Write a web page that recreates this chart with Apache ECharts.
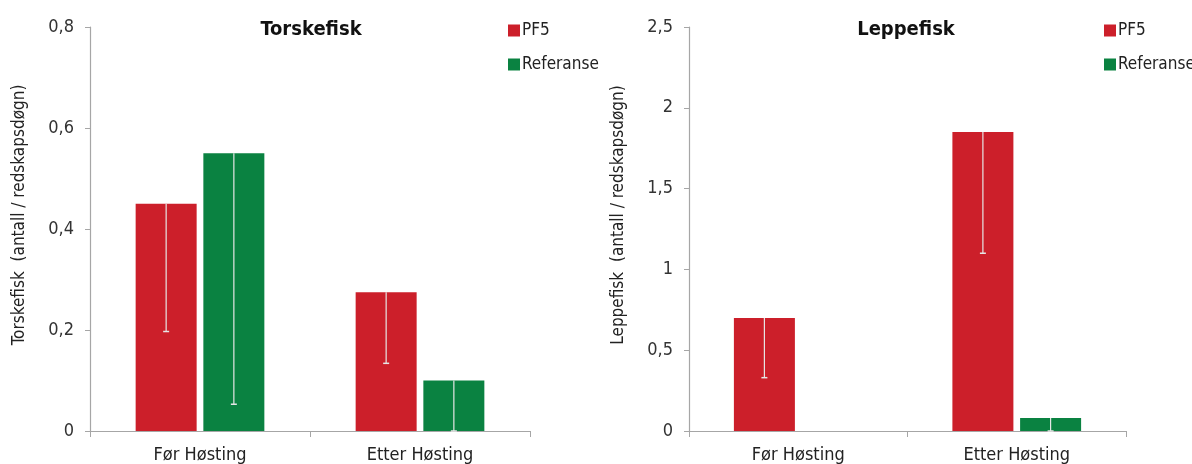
<!DOCTYPE html>
<html><head><meta charset="utf-8">
<script src="https://cdn.jsdelivr.net/npm/echarts@6/dist/echarts.min.js"></script>
<style>html,body{margin:0;padding:0;background:#fff}#c{width:1192px;height:464px}</style>
</head><body><div id="c"></div>
<script>
const categories = ['Før Høsting', 'Etter Høsting'];
const seriesNames = ['PF5', 'Referanse'];
// Torskefisk
const torskPF5 = [0.45, 0.275];
const torskPF5Lower = [0.197, 0.134];
const torskRef = [0.55, 0.1];
const torskRefLower = [0.053, 0];
const torskTicks = ['0', '0,2', '0,4', '0,6', '0,8'];
// Leppefisk
const leppePF5 = [0.7, 1.85];
const leppePF5Lower = [0.33, 1.1];
const leppeRef = [0, 0.08];
const leppeRefLower = [0, 0];
const leppeTicks = ['0', '0,5', '1', '1,5', '2', '2,5'];

const FONT = "'Liberation Sans Narrow', 'DejaVu Sans Condensed', 'Roboto', sans-serif";
const RED = '#CC1F2A', GREEN = '#0A8241';
const BAR_W = 61, GAP = 0.11;
const OFF = BAR_W * (1 + GAP) / 2;

function errData(vals, lows) {
  return vals.map((v, i) => [i, v, lows[i]]);
}
function errSeries(idx, vals, lows, sign) {
  return {
    type: 'custom', xAxisIndex: idx, yAxisIndex: idx, silent: true, z: 5,
    data: errData(vals, lows),
    renderItem: function (params, api) {
      const v = api.value(1), lo = api.value(2);
      if (v <= 0) return null;
      const top = api.coord([api.value(0), v]);
      const bot = api.coord([api.value(0), lo]);
      const x = top[0] + sign * OFF;
      return {
        type: 'group', children: [
          { type: 'line', shape: { x1: x, y1: top[1], x2: x, y2: bot[1] }, style: { stroke: '#e6e6e6', lineWidth: 1.2 } },
          { type: 'line', shape: { x1: x - 3, y1: bot[1], x2: x + 3, y2: bot[1] }, style: { stroke: '#e6e6e6', lineWidth: 1.5 } }
        ]
      };
    }
  };
}
function yAxis(idx, max, interval, ticks, name) {
  return {
    type: 'value', gridIndex: idx, min: 0, max: max, interval: interval,
    name: name, nameLocation: 'middle', nameGap: 62, nameRotate: 90,
    nameTextStyle: { fontFamily: FONT, fontSize: 17, color: '#222', padding: [0, 0, 0, 28] },
    axisLine: { show: true, lineStyle: { color: '#a6a6a6', width: 1.2 } },
    axisTick: { show: true, length: 5, lineStyle: { color: '#a6a6a6' } },
    splitLine: { show: false },
    axisLabel: {
      fontFamily: FONT, fontSize: 18, color: '#333', margin: 16,
      formatter: function (v) { return ticks[Math.round(v / interval)]; }
    }
  };
}
function xAxis(idx) {
  return {
    type: 'category', gridIndex: idx, data: categories,
    axisLine: { lineStyle: { color: '#a6a6a6', width: 1.2 } },
    axisTick: { show: true, length: 6, lineStyle: { color: '#a6a6a6' } },
    axisLabel: { fontFamily: FONT, fontSize: 18, color: '#222', margin: 15 }
  };
}
function bar(idx, name, vals, color) {
  return {
    type: 'bar', name: name, xAxisIndex: idx, yAxisIndex: idx, data: vals,
    barWidth: BAR_W, barGap: (GAP * 100) + '%',
    itemStyle: { color: color }
  };
}

const chart = echarts.init(document.getElementById('c'));
chart.setOption({
  animation: false,
  title: [
    { text: 'Torskefisk', left: 306, top: 15, textAlign: 'center',
      textStyle: { fontFamily: FONT, fontSize: 20, fontWeight: 'bold', color: '#111' } },
    { text: 'Leppefisk', left: 901, top: 15, textAlign: 'center',
      textStyle: { fontFamily: FONT, fontSize: 20, fontWeight: 'bold', color: '#111' } }
  ],
  legend: [
    { data: seriesNames, left: 503, top: 17, orient: 'vertical', icon: 'rect', itemWidth: 12, itemHeight: 12, itemGap: 17,
      textStyle: { fontFamily: FONT, fontSize: 17, color: '#222', padding: [0, 0, 0, -3] } },
    { data: seriesNames, left: 1099, top: 17, orient: 'vertical', icon: 'rect', itemWidth: 12, itemHeight: 12, itemGap: 17,
      textStyle: { fontFamily: FONT, fontSize: 17, color: '#222', padding: [0, 0, 0, -3] } }
  ],
  grid: [
    { left: 90, right: 662, top: 27, bottom: 32 },
    { left: 689, right: 66, top: 27, bottom: 32 }
  ],
  xAxis: [xAxis(0), xAxis(1)],
  yAxis: [
    yAxis(0, 0.8, 0.2, torskTicks, 'Torskefisk  (antall / redskapsdøgn)'),
    yAxis(1, 2.5, 0.5, leppeTicks, 'Leppefisk  (antall / redskapsdøgn)')
  ],
  series: [
    bar(0, 'PF5', torskPF5, RED),
    bar(0, 'Referanse', torskRef, GREEN),
    bar(1, 'PF5', leppePF5, RED),
    bar(1, 'Referanse', leppeRef, GREEN),
    errSeries(0, torskPF5, torskPF5Lower, -1),
    errSeries(0, torskRef, torskRefLower, 1),
    errSeries(1, leppePF5, leppePF5Lower, -1),
    errSeries(1, leppeRef, leppeRefLower, 1)
  ]
});
</script></body></html>
